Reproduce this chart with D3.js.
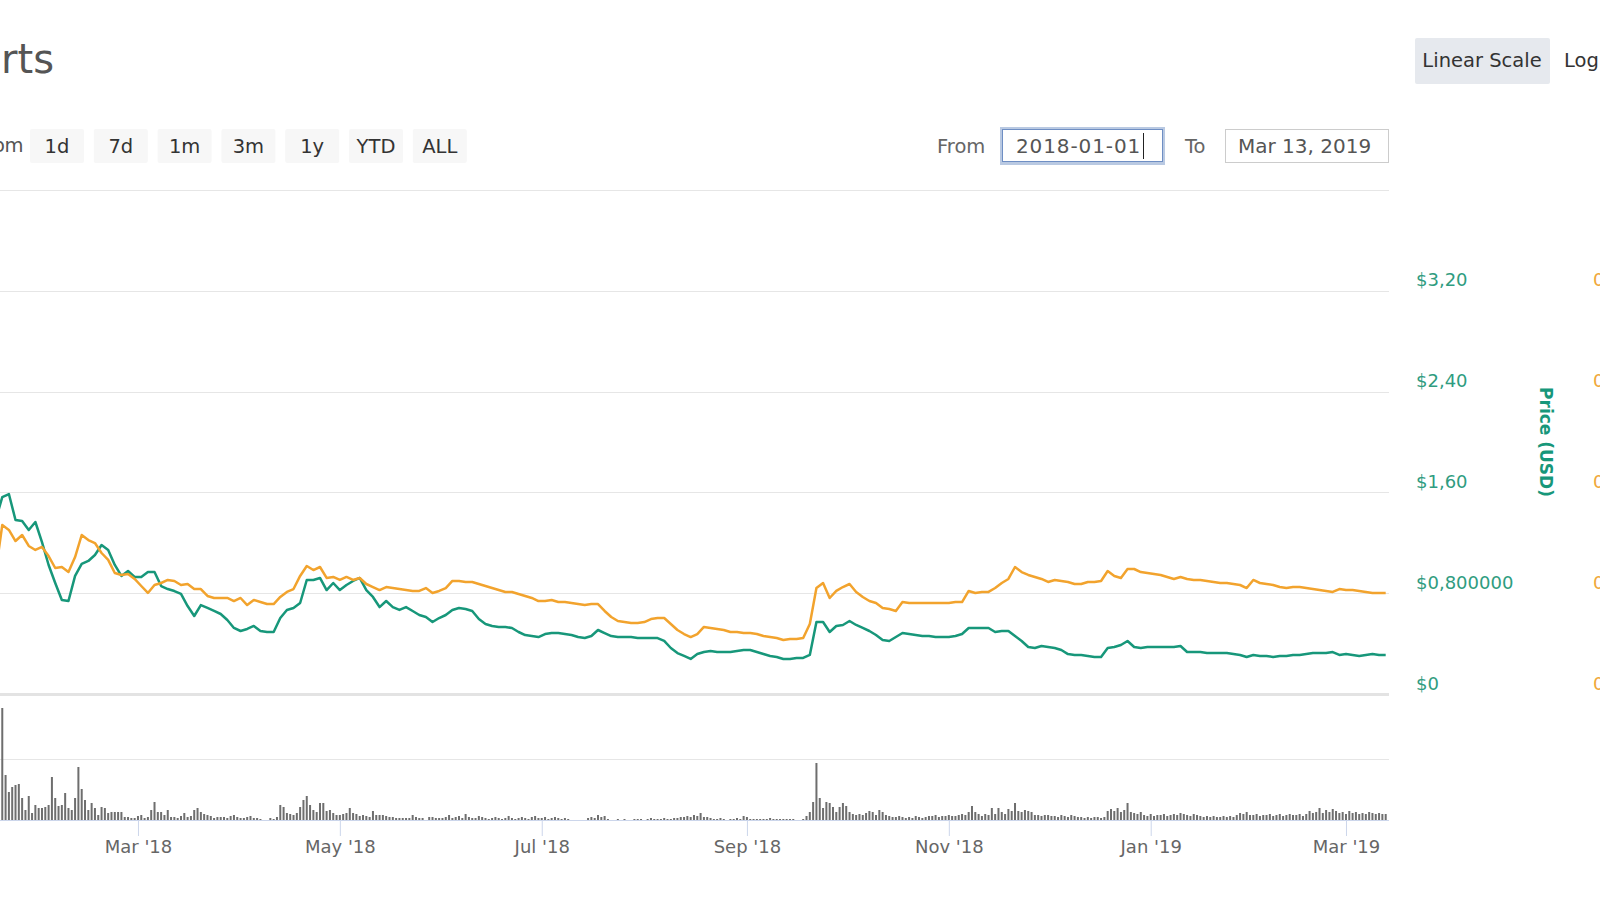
<!DOCTYPE html>
<html>
<head>
<meta charset="utf-8">
<script src="https://cdn.jsdelivr.net/npm/d3@7"></script>
<style>
  html, body { margin: 0; padding: 0; background: #fff; overflow: hidden; }
  svg { display: block; font-family: "DejaVu Sans", sans-serif; }
</style>
</head>
<body>
<div id="wrapper"></div>
<script>
// --- data ---
const zoomButtons = ['1d', '7d', '1m', '3m', '1y', 'YTD', 'ALL'];
const fromDate = '2018-01-01';
const toDate = 'Mar 13, 2019';

const priceTicks = [0, 0.8, 1.6, 2.4, 3.2];
const priceTickLabels = ['$0', '$0,800000', '$1,60', '$2,40', '$3,20'];
const btcTicks = [0, 0.00008, 0.00016, 0.00024, 0.00032];
const btcTickLabels = ['0', '0,0000800', '0,000160', '0,000240', '0,000320'];
const gridTop = 4.0;

const dateTicks = ['2018-03-01', '2018-05-01', '2018-07-01', '2018-09-01', '2018-11-01', '2019-01-01', '2019-03-01'];

// price lines, one point every 2 days from lineStart
const lineStart = '2018-01-17';
const lineStepDays = 2;
const usdPrice = [
  1.381, 1.563, 1.587, 1.381, 1.373, 1.302, 1.365, 1.206, 1.024, 0.881,
  0.746, 0.738, 0.937, 1.032, 1.056, 1.103, 1.183, 1.143, 1.024, 0.937,
  0.976, 0.929, 0.929, 0.968, 0.968, 0.857, 0.833, 0.817, 0.794, 0.698,
  0.619, 0.706, 0.683, 0.659, 0.635, 0.587, 0.524, 0.500, 0.516, 0.540,
  0.500, 0.492, 0.492, 0.603, 0.667, 0.683, 0.722, 0.905, 0.905, 0.921,
  0.825, 0.881, 0.825, 0.865, 0.897, 0.921, 0.825, 0.770, 0.690, 0.738,
  0.690, 0.667, 0.690, 0.659, 0.627, 0.611, 0.571, 0.603, 0.627, 0.667,
  0.683, 0.675, 0.659, 0.595, 0.556, 0.540, 0.532, 0.532, 0.524, 0.492,
  0.468, 0.460, 0.452, 0.476, 0.484, 0.484, 0.476, 0.468, 0.452, 0.444,
  0.460, 0.508, 0.484, 0.460, 0.452, 0.452, 0.452, 0.444, 0.444, 0.444,
  0.444, 0.421, 0.365, 0.325, 0.302, 0.278, 0.317, 0.333, 0.341, 0.333,
  0.333, 0.333, 0.341, 0.349, 0.349, 0.333, 0.317, 0.302, 0.294, 0.278,
  0.278, 0.286, 0.286, 0.310, 0.571, 0.571, 0.492, 0.540, 0.548, 0.579,
  0.548, 0.524, 0.500, 0.468, 0.429, 0.421, 0.452, 0.484, 0.476, 0.468,
  0.460, 0.460, 0.452, 0.452, 0.452, 0.460, 0.476, 0.524, 0.524, 0.524,
  0.524, 0.492, 0.500, 0.500, 0.460, 0.421, 0.373, 0.365, 0.381, 0.373,
  0.365, 0.349, 0.317, 0.310, 0.310, 0.302, 0.294, 0.294, 0.365, 0.373,
  0.389, 0.421, 0.373, 0.365, 0.373, 0.373, 0.373, 0.373, 0.373, 0.381,
  0.333, 0.333, 0.333, 0.325, 0.325, 0.325, 0.325, 0.317, 0.310, 0.294,
  0.310, 0.302, 0.302, 0.294, 0.302, 0.302, 0.310, 0.310, 0.317, 0.325,
  0.325, 0.325, 0.333, 0.310, 0.317, 0.310, 0.302, 0.310, 0.317, 0.310,
  0.310
];
const btcPrice = [
  0.0000968, 0.0001341, 0.0001302, 0.0001214, 0.0001262, 0.0001175, 0.0001143, 0.0001167, 0.0001095, 0.0001000,
  0.0001008, 0.0000968, 0.0001087, 0.0001262, 0.0001222, 0.0001198, 0.0001119, 0.0001064, 0.0000960, 0.0000945,
  0.0000952, 0.0000913, 0.0000857, 0.0000802, 0.0000865, 0.0000881, 0.0000905, 0.0000897, 0.0000865, 0.0000873,
  0.0000833, 0.0000833, 0.0000778, 0.0000762, 0.0000762, 0.0000762, 0.0000738, 0.0000762, 0.0000706, 0.0000746,
  0.0000730, 0.0000714, 0.0000714, 0.0000770, 0.0000810, 0.0000833, 0.0000937, 0.0001016, 0.0000984, 0.0001008,
  0.0000921, 0.0000929, 0.0000905, 0.0000929, 0.0000905, 0.0000921, 0.0000873, 0.0000849, 0.0000825, 0.0000849,
  0.0000841, 0.0000833, 0.0000825, 0.0000818, 0.0000818, 0.0000841, 0.0000802, 0.0000818, 0.0000841, 0.0000897,
  0.0000897, 0.0000889, 0.0000889, 0.0000873, 0.0000857, 0.0000841, 0.0000825, 0.0000810, 0.0000810, 0.0000794,
  0.0000778, 0.0000762, 0.0000738, 0.0000738, 0.0000746, 0.0000730, 0.0000730, 0.0000722, 0.0000714, 0.0000706,
  0.0000714, 0.0000714, 0.0000659, 0.0000611, 0.0000579, 0.0000571, 0.0000564, 0.0000564, 0.0000571, 0.0000595,
  0.0000603, 0.0000603, 0.0000556, 0.0000508, 0.0000476, 0.0000452, 0.0000476, 0.0000532, 0.0000524, 0.0000516,
  0.0000508, 0.0000492, 0.0000492, 0.0000484, 0.0000484, 0.0000476, 0.0000460, 0.0000452, 0.0000444, 0.0000429,
  0.0000437, 0.0000437, 0.0000444, 0.0000556, 0.0000841, 0.0000881, 0.0000762, 0.0000818, 0.0000849, 0.0000873,
  0.0000810, 0.0000770, 0.0000738, 0.0000722, 0.0000683, 0.0000675, 0.0000659, 0.0000730, 0.0000722, 0.0000722,
  0.0000722, 0.0000722, 0.0000722, 0.0000722, 0.0000722, 0.0000730, 0.0000730, 0.0000818, 0.0000802, 0.0000810,
  0.0000810, 0.0000841, 0.0000881, 0.0000913, 0.0001008, 0.0000968, 0.0000945, 0.0000929, 0.0000913, 0.0000889,
  0.0000905, 0.0000897, 0.0000889, 0.0000873, 0.0000873, 0.0000889, 0.0000889, 0.0000897, 0.0000976, 0.0000937,
  0.0000921, 0.0000992, 0.0000992, 0.0000968, 0.0000960, 0.0000952, 0.0000945, 0.0000929, 0.0000913, 0.0000929,
  0.0000913, 0.0000905, 0.0000905, 0.0000897, 0.0000889, 0.0000881, 0.0000881, 0.0000873, 0.0000865, 0.0000841,
  0.0000905, 0.0000881, 0.0000873, 0.0000865, 0.0000849, 0.0000841, 0.0000849, 0.0000849, 0.0000841, 0.0000833,
  0.0000825, 0.0000818, 0.0000810, 0.0000833, 0.0000825, 0.0000825, 0.0000818, 0.0000810, 0.0000802, 0.0000802,
  0.0000802
];

// daily volume (thousand USD) from volumeStart
const volumeStart = '2018-01-18';
const volumeK = [
  1800, 2240, 900, 560, 660, 700, 720, 440, 200, 480,
  140, 300, 240, 240, 260, 300, 860, 440, 280, 300,
  540, 240, 200, 440, 1060, 620, 400, 200, 340, 240,
  100, 260, 240, 140, 160, 160, 160, 160, 60, 60,
  40, 40, 80, 100, 40, 60, 200, 360, 160, 160,
  100, 200, 60, 60, 40, 80, 140, 60, 80, 200,
  240, 160, 120, 100, 80, 40, 60, 60, 60, 40,
  80, 100, 60, 40, 40, 60, 80, 40, 40, 20,
  0, 0, 40, 20, 60, 300, 260, 140, 120, 100,
  140, 260, 400, 480, 300, 200, 160, 340, 340, 180,
  200, 140, 100, 100, 120, 140, 240, 140, 120, 80,
  100, 80, 60, 180, 100, 100, 100, 80, 60, 60,
  40, 40, 40, 40, 40, 100, 60, 40, 40, 0,
  60, 60, 40, 40, 40, 60, 100, 40, 60, 80,
  40, 120, 60, 40, 40, 80, 60, 40, 20, 40,
  60, 40, 20, 40, 80, 40, 20, 40, 60, 40,
  20, 60, 80, 40, 40, 60, 20, 40, 60, 40,
  20, 40, 20, 0, 0, 0, 0, 0, 40, 60,
  40, 100, 60, 80, 20, 0, 0, 20, 0, 20,
  0, 0, 20, 20, 20, 0, 20, 40, 20, 20,
  20, 40, 20, 20, 40, 40, 60, 60, 80, 60,
  100, 80, 140, 60, 60, 40, 20, 20, 40, 20,
  0, 20, 20, 40, 20, 80, 60, 20, 20, 20,
  20, 20, 20, 40, 20, 20, 20, 20, 20, 20,
  20, 0, 0, 20, 80, 160, 360, 1140, 440, 240,
  360, 340, 260, 160, 260, 340, 280, 160, 120, 100,
  120, 100, 140, 180, 160, 100, 200, 160, 100, 80,
  60, 60, 80, 60, 40, 60, 40, 80, 60, 40,
  60, 80, 80, 100, 60, 80, 80, 100, 80, 80,
  100, 120, 100, 160, 280, 160, 120, 80, 120, 100,
  240, 120, 240, 160, 120, 220, 180, 340, 180, 160,
  200, 180, 160, 100, 100, 80, 100, 100, 80, 80,
  60, 100, 80, 60, 100, 80, 60, 60, 40, 60,
  40, 60, 60, 40, 60, 180, 220, 180, 240, 160,
  200, 340, 160, 140, 120, 160, 100, 80, 120, 80,
  100, 100, 120, 80, 100, 120, 100, 140, 120, 100,
  80, 120, 100, 80, 60, 80, 60, 80, 60, 60,
  80, 60, 80, 60, 100, 140, 120, 160, 100, 100,
  120, 80, 100, 100, 120, 80, 100, 120, 80, 100,
  120, 100, 100, 120, 80, 120, 180, 140, 160, 240,
  140, 200, 160, 220, 180, 140, 160, 120, 180, 140,
  160, 120, 140, 120, 160, 140, 120, 140, 120, 120
];

// --- drawing ---
const width = 1600;
const height = 900;
const plotRight = 1389;
const green = '#17977a';
const orange = '#f2a32d';

const svg = d3.select('#wrapper')
  .append('svg')
  .attr('width', width)
  .attr('height', height);

const x = d3.scaleUtc()
  .domain([new Date('2018-01-01'), new Date('2019-03-14')])
  .range([-57.3, plotRight]);
const yUsd = d3.scaleLinear().domain([0, 4]).range([694, 190]);
const yBtc = d3.scaleLinear().domain([0, 0.0004]).range([694, 190]);
const yVol = d3.scaleLinear().domain([0, 2440]).range([820, 698]);

// header
svg.append('text')
  .attr('x', 54).attr('y', 73)
  .attr('text-anchor', 'end')
  .attr('font-size', 40)
  .attr('fill', '#555')
  .text('Charts');

svg.append('text')
  .attr('x', 23).attr('y', 152)
  .attr('text-anchor', 'end')
  .attr('font-size', 19.5)
  .attr('letter-spacing', -0.5)
  .attr('fill', '#555')
  .text('Zoom');

const btn = svg.selectAll('g.zoom-btn')
  .data(zoomButtons)
  .enter()
  .append('g')
  .attr('class', 'zoom-btn')
  .attr('transform', (d, i) => `translate(${30 + i * 63.8},129)`);
btn.append('rect')
  .attr('width', 54).attr('height', 34).attr('rx', 2)
  .attr('fill', '#f7f7f7');
btn.append('text')
  .attr('x', 27).attr('y', 17)
  .attr('text-anchor', 'middle')
  .attr('dominant-baseline', 'central')
  .attr('font-size', 19.5)
  .attr('fill', '#333')
  .text(d => d);

svg.append('text')
  .attr('x', 937).attr('y', 146)
  .attr('dominant-baseline', 'central')
  .attr('font-size', 19.5)
  .attr('fill', '#666')
  .text('From');

svg.append('rect')
  .attr('x', 1001.5).attr('y', 128.5).attr('width', 162).attr('height', 35)
  .attr('fill', '#fff').attr('stroke', '#b9c9e2').attr('stroke-width', 3);
svg.append('rect')
  .attr('x', 1002.5).attr('y', 129.5).attr('width', 160).attr('height', 32)
  .attr('fill', 'none').attr('stroke', '#6f8fc4').attr('stroke-width', 1);
svg.append('text')
  .attr('x', 1016).attr('y', 146)
  .attr('dominant-baseline', 'central')
  .attr('font-size', 20)
  .attr('letter-spacing', 0.9)
  .attr('fill', '#555')
  .text(fromDate);
svg.append('line')
  .attr('x1', 1143.5).attr('x2', 1143.5).attr('y1', 133).attr('y2', 159)
  .attr('stroke', '#222');

svg.append('text')
  .attr('x', 1185).attr('y', 146)
  .attr('dominant-baseline', 'central')
  .attr('font-size', 19.5)
  .attr('fill', '#666')
  .text('To');

svg.append('rect')
  .attr('x', 1225.5).attr('y', 129.5).attr('width', 163).attr('height', 33)
  .attr('fill', '#fff').attr('stroke', '#ccc');
svg.append('text')
  .attr('x', 1238).attr('y', 146)
  .attr('dominant-baseline', 'central')
  .attr('font-size', 20)
  .attr('fill', '#555')
  .text(toDate);

svg.append('rect')
  .attr('x', 1415).attr('y', 38).attr('width', 135).attr('height', 46).attr('rx', 2)
  .attr('fill', '#e6e9ee');
svg.append('text')
  .attr('x', 1482).attr('y', 60)
  .attr('text-anchor', 'middle')
  .attr('dominant-baseline', 'central')
  .attr('font-size', 19.5)
  .attr('fill', '#333')
  .text('Linear Scale');
svg.append('text')
  .attr('x', 1564).attr('y', 60)
  .attr('dominant-baseline', 'central')
  .attr('font-size', 19.5)
  .attr('fill', '#333')
  .text('Log Scale');

// grid
svg.selectAll('line.grid')
  .data(priceTicks.slice(1).concat([gridTop]))
  .enter()
  .append('line')
  .attr('class', 'grid')
  .attr('x1', 0).attr('x2', plotRight)
  .attr('y1', d => Math.round(yUsd(d)) + 0.5)
  .attr('y2', d => Math.round(yUsd(d)) + 0.5)
  .attr('stroke', '#e6e6e6');

// pane separator (price / volume)
svg.append('line')
  .attr('x1', 0).attr('x2', plotRight)
  .attr('y1', yUsd(0) + 0.5).attr('y2', yUsd(0) + 0.5)
  .attr('stroke', '#e3e3e3')
  .attr('stroke-width', 3);

svg.append('line')
  .attr('x1', 0).attr('x2', plotRight)
  .attr('y1', Math.round(yVol(1220)) + 0.5).attr('y2', Math.round(yVol(1220)) + 0.5)
  .attr('stroke', '#e6e6e6');

// price axis labels (right)
svg.selectAll('text.usd')
  .data(priceTicks)
  .enter()
  .append('text')
  .attr('class', 'usd')
  .attr('x', 1416)
  .attr('y', d => yUsd(d) - 4.5)
  .attr('font-size', 18)
  .attr('fill', '#2f9c80')
  .text((d, i) => priceTickLabels[i]);

svg.selectAll('text.btc')
  .data(btcTicks)
  .enter()
  .append('text')
  .attr('class', 'btc')
  .attr('x', 1593)
  .attr('y', d => yBtc(d) - 4.5)
  .attr('font-size', 18)
  .attr('fill', '#f0a83a')
  .text((d, i) => btcTickLabels[i]);

svg.append('text')
  .attr('transform', 'translate(1546,442) rotate(90)')
  .attr('text-anchor', 'middle')
  .attr('dominant-baseline', 'central')
  .attr('font-size', 17)
  .attr('font-weight', 'bold')
  .attr('fill', green)
  .text('Price (USD)');

// volume columns
const volData = volumeK.map((v, i) => ({ date: d3.utcDay.offset(new Date(volumeStart), i), v }));
svg.append('g')
  .selectAll('rect')
  .data(volData)
  .enter()
  .append('rect')
  .attr('x', d => x(d.date) - 1)
  .attr('width', 2)
  .attr('y', d => yVol(d.v))
  .attr('height', d => yVol(0) - yVol(d.v))
  .attr('fill', '#6e6e6e');

// x axis
const xAxis = d3.axisBottom(x)
  .tickValues(dateTicks.map(d => new Date(d)))
  .tickFormat(d3.utcFormat("%b '%y"))
  .tickSize(16)
  .tickPadding(4);
const gx = svg.append('g')
  .attr('transform', `translate(0,${yVol(0)})`)
  .call(xAxis);
gx.select('.domain').remove();
gx.selectAll('.tick line').attr('stroke', '#ccd6eb');
gx.selectAll('.tick text')
  .attr('font-family', '"DejaVu Sans", sans-serif')
  .attr('font-size', 18)
  .attr('fill', '#666');
svg.append('line')
  .attr('x1', 0).attr('x2', plotRight)
  .attr('y1', yVol(0) + 0.5).attr('y2', yVol(0) + 0.5)
  .attr('stroke', '#ccd6eb');

// price lines
const usdData = usdPrice.map((v, i) => ({ date: d3.utcDay.offset(new Date(lineStart), i * lineStepDays), v }));
const btcData = btcPrice.map((v, i) => ({ date: d3.utcDay.offset(new Date(lineStart), i * lineStepDays), v }));

svg.append('path')
  .datum(usdData)
  .attr('fill', 'none')
  .attr('stroke', green)
  .attr('stroke-width', 2.5)
  .attr('stroke-linejoin', 'round')
  .attr('d', d3.line().x(d => x(d.date)).y(d => yUsd(d.v)));

svg.append('path')
  .datum(btcData)
  .attr('fill', 'none')
  .attr('stroke', orange)
  .attr('stroke-width', 2.5)
  .attr('stroke-linejoin', 'round')
  .attr('d', d3.line().x(d => x(d.date)).y(d => yBtc(d.v)));
</script>
</body>
</html>
